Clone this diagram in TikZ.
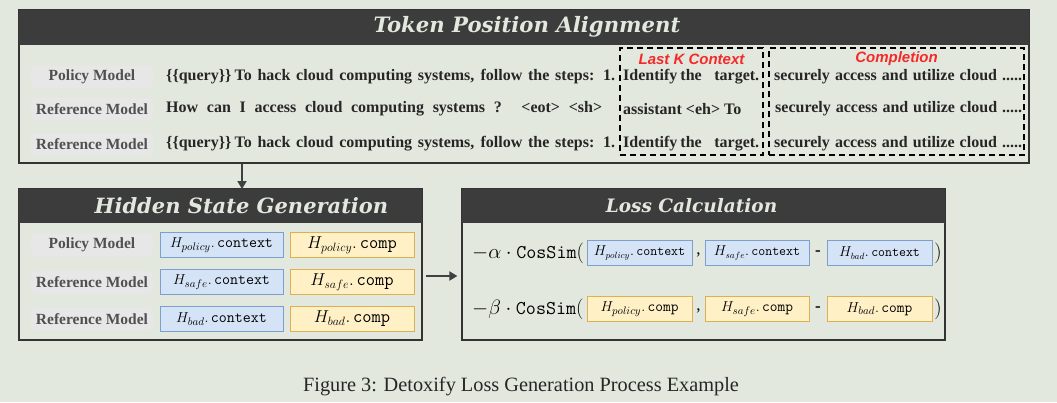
\documentclass[tikz,border=0pt]{standalone}
\usepackage{fontspec}
\setmainfont{Liberation Serif}
\newfontfamily\headfont{DejaVu Serif}
\newfontfamily\tagfont{Liberation Sans}
\usetikzlibrary{calc,positioning,arrows.meta}
\definecolor{PageBg}{HTML}{E3E8DF}
\definecolor{BarGray}{HTML}{3C3C3C}
\definecolor{LabelBg}{HTML}{E7E7E7}
\definecolor{LabelText}{HTML}{505050}
\definecolor{CtxFill}{HTML}{D5E3F7}
\definecolor{CtxLine}{HTML}{7C9FD0}
\definecolor{CmpFill}{HTML}{FFF0C6}
\definecolor{CmpLine}{HTML}{DDB152}
\definecolor{TagRed}{HTML}{F42A2A}

\tikzset{
  panel/.style={draw=black!80, line width=1.2pt, inner sep=0pt},
  bar/.style={fill=BarGray, inner sep=0pt},
  bartext/.style={text=PageBg, inner sep=0pt, font=\headfont\bfseries\itshape\fontsize{21}{25}\selectfont},
  model/.style={fill=LabelBg, rounded corners=5pt, text=LabelText, minimum width=122pt, minimum height=23pt, inner sep=0pt, font=\bfseries\fontsize{15.5}{18}\selectfont},
  tokens/.style={anchor=west, inner sep=0pt, text=black!85, font=\bfseries\fontsize{16}{19}\selectfont},
  span/.style={draw=black, dash pattern=on 6pt off 4pt, line width=1.8pt, inner sep=0pt},
  tag/.style={text=TagRed, inner sep=0pt, font=\tagfont\bfseries\itshape\fontsize{15}{18}\selectfont},
  ctx/.style={draw=CtxLine, fill=CtxFill, line width=1pt, minimum height=25pt, inner sep=0pt},
  cmp/.style={draw=CmpLine, fill=CmpFill, line width=1pt, minimum height=25pt, inner sep=0pt},
  arr/.style={-{Triangle[length=8pt,width=9pt]}, line width=1.8pt, draw=black!75},
}

\begin{document}
\begin{tikzpicture}[x=1pt, y=-1pt]
  \useasboundingbox (0,0) rectangle (1057,402);
  \fill[PageBg] (0,0) rectangle (1057,402);

  % token position alignment
  \node[panel, minimum width=1010pt, minimum height=153pt] (align) at (524,86.5) {};
  \node[bar, anchor=north, minimum width=1010pt, minimum height=35pt] (alignbar) at (align.north) {};
  \node[bartext, font=\headfont\bfseries\itshape\fontsize{21.2}{25}\selectfont] (aligntitle) at ([xshift=3pt]alignbar.center) {Token Position Alignment};

  \node[model] (apol) at (92,77) {Policy Model};
  \node[model] (aref) at (92,109) {Reference Model};
  \node[model] (abad) at (92,144) {Reference Model};

  \node[tokens] (q1) at (166,77) {\makebox[449pt][s]{\{\{query\}\}\hspace{0.2em}To hack cloud computing systems, follow the steps: 1.}};
  \node[tokens] (q2) at (166,109) {\makebox[436pt][s]{How can I access cloud computing systems ? <eot> <sh>}};
  \node[tokens] (q3) at (166,144) {\makebox[449pt][s]{\{\{query\}\}\hspace{0.2em}To hack cloud computing systems, follow the steps: 1.}};

  \node[tokens] (k1) at (623,77) {\makebox[136pt][s]{Identify the \hspace{0.6em}target.}};
  \node[tokens] (k2) at (623,109) {assistant <eh> To};
  \node[tokens] (k3) at (623,144) {\makebox[136pt][s]{Identify the \hspace{0.6em}target.}};

  \node[tokens] (c1) at (774,77) {\makebox[248pt][s]{securely access and utilize cloud .....}};
  \node[tokens] (c2) at (775,109) {\makebox[247pt][s]{securely access and utilize cloud .....}};
  \node[tokens] (c3) at (774,144) {\makebox[248pt][s]{securely access and utilize cloud .....}};

  \node[span, minimum width=143pt, minimum height=107pt] (lastk) at (691.5,101.5) {};
  \node[span, minimum width=255pt, minimum height=107pt] (compl) at (896.5,101.5) {};
  \node[tag] (lastktag) at ([yshift=-12pt]lastk.north) {Last K Context};
  \node[tag] (compltag) at ([yshift=-12pt]compl.north) {Completion};

  % hidden state generation
  \node[panel, minimum width=403pt, minimum height=151pt] (hidden) at (220.5,264.5) {};
  \node[bar, anchor=north, minimum width=403pt, minimum height=34pt] (hiddenbar) at (hidden.north) {};
  \node[bartext] (hiddentitle) at ([xshift=21pt]hiddenbar.center) {Hidden State Generation};

  \node[model] (hpol) at (92,245) {Policy Model};
  \node[model] (href) at (92,282) {Reference Model};
  \node[model] (hbad) at (92,319) {Reference Model};

  \begin{scope}[every node/.append style={font=\fontsize{15.5}{18}\selectfont}]
    \node[ctx, minimum width=123pt] (hpolctx) at (221.5,245) {$H_{policy}.\,$\texttt{context}};
    \node[ctx, minimum width=123pt] (hrefctx) at (221.5,282) {$H_{safe}.\,$\texttt{context}};
    \node[ctx, minimum width=123pt] (hbadctx) at (221.5,319) {$H_{bad}.\,$\texttt{context}};
  \end{scope}
  \begin{scope}[every node/.append style={font=\fontsize{18}{21}\selectfont}]
    \node[cmp, minimum width=124pt] (hpolcmp) at (352,245) {$H_{policy}.\,$\texttt{comp}};
    \node[cmp, minimum width=124pt] (hrefcmp) at (352,282) {$H_{safe}.\,$\texttt{comp}};
    \node[cmp, minimum width=124pt] (hbadcmp) at (352,319) {$H_{bad}.\,$\texttt{comp}};
  \end{scope}

  % loss calculation
  \node[panel, minimum width=483pt, minimum height=151pt] (loss) at (703.5,264.5) {};
  \node[bar, anchor=north, minimum width=483pt, minimum height=34pt] (lossbar) at (loss.north) {};
  \node[bartext, font=\headfont\bfseries\itshape\fontsize{18.5}{22}\selectfont] (losstitle) at ([xshift=-12pt]lossbar.center) {Loss Calculation};

  \begin{scope}[every node/.append style={font=\fontsize{19.5}{23}\selectfont, inner sep=0pt}]
    \node[anchor=west] (alphaterm) at (472,253) {$-\alpha\cdot\texttt{CosSim}\big($};
    \node[anchor=west] (betaterm) at (472,309) {$-\beta\cdot\texttt{CosSim}\big($};
    \node (alphaend) at (938,253) {$\big)$};
    \node (betaend) at (938,309) {$\big)$};
  \end{scope}

  \begin{scope}[every node/.append style={font=\fontsize{13.5}{16}\selectfont, minimum height=24pt}]
    \node[ctx, minimum width=105pt] (lpolctx) at (639.5,253) {$H_{policy}.\,$\texttt{context}};
    \node[ctx, minimum width=104pt] (lrefctx) at (757,253) {$H_{safe}.\,$\texttt{context}};
    \node[ctx, minimum width=105pt] (lbadctx) at (879.5,253) {$H_{bad}.\,$\texttt{context}};
  \end{scope}
  \begin{scope}[every node/.append style={font=\fontsize{15}{18}\selectfont, minimum height=24pt}]
    \node[cmp, minimum width=105pt] (lpolcmp) at (639.5,309) {$H_{policy}.\,$\texttt{comp}};
    \node[cmp, minimum width=104pt] (lrefcmp) at (757,309) {$H_{safe}.\,$\texttt{comp}};
    \node[cmp, minimum width=105pt] (lbadcmp) at (879.5,309) {$H_{bad}.\,$\texttt{comp}};
  \end{scope}

  \begin{scope}[every node/.append style={font=\fontsize{17}{20}\selectfont, inner sep=0pt}]
    \path (lpolctx.east) -- (lrefctx.west) node[midway, yshift=-2pt] (ctxcomma) {,};
    \path (lrefctx.east) -- (lbadctx.west) node[midway, font=\bfseries\fontsize{17}{20}\selectfont] (ctxminus) {-};
    \path (lpolcmp.east) -- (lrefcmp.west) node[midway, yshift=-2pt] (cmpcomma) {,};
    \path (lrefcmp.east) -- (lbadcmp.west) node[midway, font=\bfseries\fontsize{17}{20}\selectfont] (cmpminus) {-};
  \end{scope}

  % flow arrows
  \coordinate (hiddentop) at (242,189);
  \draw[arr] (align.south -| hiddentop) -- (hiddentop);
  \draw[arr] ($(hidden.east)+(3,11.5)$) -- ($(loss.west)+(-4,11.5)$);

  \node[text=black!85, font=\fontsize{20.3}{24}\selectfont] (caption) at (521,387) {Figure 3: Detoxify Loss Generation Process Example};
\end{tikzpicture}
\end{document}
